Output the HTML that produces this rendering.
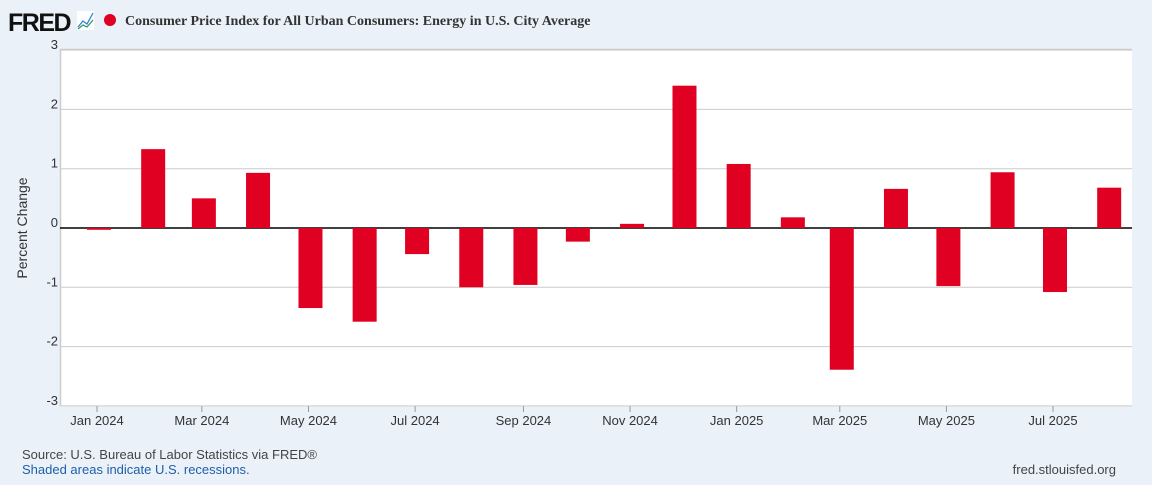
<!DOCTYPE html>
<html><head><meta charset="utf-8"><style>
body{margin:0;width:1152px;height:480px;background:#eaf1f9;font-family:"Liberation Sans",sans-serif;overflow:hidden}
</style></head><body>
<svg width="1152" height="480" xmlns="http://www.w3.org/2000/svg" id="chart">
<g>
<text x="8" y="31" font-family="Liberation Sans" font-weight="bold" font-size="25" fill="#111" letter-spacing="-1.5">FRED</text>
<rect x="77" y="11" width="17" height="19" fill="#fff"/>
<polyline points="78,27 83,21 87,24 93,13" fill="none" stroke="#3a7bd5" stroke-width="1.3"/>
<polyline points="78,29 83,25 87,27 93,20" fill="none" stroke="#2a9d6a" stroke-width="1.3"/>
<circle cx="110" cy="20" r="6" fill="#e00022"/>
<text x="125" y="25" font-family="Liberation Serif" font-weight="bold" font-size="14" fill="#333">Consumer Price Index for All Urban Consumers: Energy in U.S. City Average</text>
</g>
<rect x="60" y="49" width="1072" height="357" fill="#fff"/>
<line x1="60" y1="49.5" x2="1132" y2="49.5" stroke="#ccc" stroke-width="1.5"/>
<line x1="60.5" y1="49" x2="60.5" y2="406" stroke="#ccc" stroke-width="1.5"/>
<g id="grid"></g><g id="bars"></g><g id="ylabels"></g><g id="xlabels"></g>
<text x="27" y="228" transform="rotate(-90 27 228)" text-anchor="middle" font-size="14" fill="#333">Percent Change</text>
<text x="22" y="459" font-size="13" fill="#444">Source: U.S. Bureau of Labor Statistics via FRED®</text>
<text x="22" y="474" font-size="13" fill="#1f5fa8">Shaded areas indicate U.S. recessions.</text>
<text x="1116" y="474" text-anchor="end" font-size="13" fill="#444">fred.stlouisfed.org</text>
</svg>
<script>
const months=["2024-01","2024-02","2024-03","2024-04","2024-05","2024-06","2024-07","2024-08","2024-09","2024-10","2024-11","2024-12","2025-01","2025-02","2025-03","2025-04","2025-05","2025-06","2025-07","2025-08"];
const values=[-0.03,1.33,0.5,0.93,-1.35,-1.58,-0.44,-1.0,-0.96,-0.23,0.07,2.4,1.08,0.18,-2.39,0.66,-0.98,0.94,-1.08,0.68];
const yTicks=[3,2,1,0,-1,-2,-3];
const xTickMonths=["2024-01","2024-03","2024-05","2024-07","2024-09","2024-11","2025-01","2025-03","2025-05","2025-07"];
const xTickLabels=["Jan 2024","Mar 2024","May 2024","Jul 2024","Sep 2024","Nov 2024","Jan 2025","Mar 2025","May 2025","Jul 2025"];
const NS="http://www.w3.org/2000/svg";
const y=v=>228-v*59.3;
const t0=Date.UTC(2024,0,1),t1=Date.UTC(2025,6,1);
const x=m=>{const[a,b]=m.split("-").map(Number);const t=Date.UTC(a,b-1,1);return 97+(t-t0)/(t1-t0)*(1053-97);};
function mk(tag,attrs,parent){const e=document.createElementNS(NS,tag);for(const k in attrs)e.setAttribute(k,attrs[k]);document.getElementById(parent).appendChild(e);return e;}
yTicks.forEach(v=>{
 const l=mk("line",{x1:60,x2:1132,y1:y(v),y2:y(v),stroke:v===0?"#000":"#ccc","stroke-width":v===0?1.5:1},"grid");
 
 
 const tx=mk("text",{x:58,y:y(v)-1,"text-anchor":"end","font-size":13,fill:"#333"},"ylabels");
 tx.textContent=v;
 
 
});
values.forEach((v,i)=>{
 const cx=x(months[i])+2;
 const r=mk("rect",{x:cx-12,width:24,y:Math.min(y(v),y(0)),height:Math.max(1,Math.abs(y(v)-y(0))),fill:"#e00022"},"bars");
 
 
});
xTickMonths.forEach((m,i)=>{
 const l=mk("line",{x1:x(m),x2:x(m),y1:406,y2:412,stroke:"#999"},"xlabels");
 
 
 const tx=mk("text",{x:x(m),y:425,"text-anchor":"middle","font-size":13,fill:"#333"},"xlabels");
 tx.textContent=xTickLabels[i];
 
 
});
</script>
</body></html>
